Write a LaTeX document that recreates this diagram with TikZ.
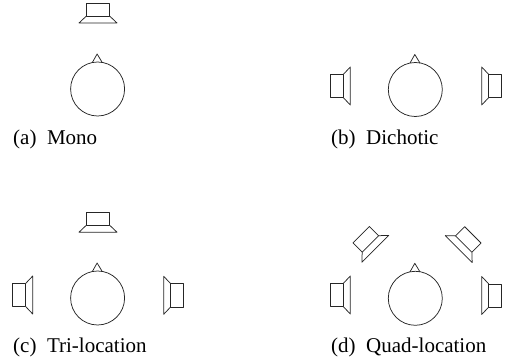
\documentclass[tikz,border=0pt]{standalone}
\usepackage{fontspec}
\setmainfont{Liberation Serif}
\tikzset{
  outline/.style={draw=black!85,line width=0.75pt,line join=round},
  captext/.style={anchor=base west,inner sep=0pt,font=\fontsize{21}{24}\selectfont},
  headpic/.pic={
    \draw[outline] (0,0) circle (27);
    \draw[outline] (-5.3,-26.4) -- (-0.5,-35) -- (4.7,-26.4);
  },
  spkdown/.pic={
    \draw[outline] (-11.6,-6.5) rectangle (11.6,6.5);
    \draw[outline] (-11.6,6.5) -- (-19,13.5) -- (19,13.5) -- (11.6,6.5);
  },
}
\begin{document}
\begin{tikzpicture}[x=1pt,y=-1pt]
\useasboundingbox (0,0) rectangle (509,363);
% Mono
\pic at (97.6,89) {headpic};
\pic at (98,9.5) {spkdown};
\node[captext] (a) at (13,145) {(a)\hspace{0.5em}Mono};
% Dichotic
\pic at (415.3,89.5) {headpic};
\pic[rotate=90] at (336.8,86) {spkdown};
\pic[rotate=-90] at (495.2,86) {spkdown};
\node[captext] (b) at (331,145) {(b)\hspace{0.5em}Dichotic};
% Tri-location
\pic at (97.6,298) {headpic};
\pic at (98,218.7) {spkdown};
\pic[rotate=90] at (19.2,295) {spkdown};
\pic[rotate=-90] at (177.2,295.3) {spkdown};
\node[captext] (c) at (13,353) {(c)\hspace{0.5em}Tri-location};
% Quad-location
\pic at (415.3,298.3) {headpic};
\pic[rotate=90] at (336.8,295) {spkdown};
\pic[rotate=-90] at (495.2,295.5) {spkdown};
\pic[rotate=45] at (365.8,239.3) {spkdown};
\pic[rotate=-45] at (468.3,239.5) {spkdown};
\node[captext] (d) at (331,353) {(d)\hspace{0.5em}Quad-location};
\end{tikzpicture}
\end{document}
